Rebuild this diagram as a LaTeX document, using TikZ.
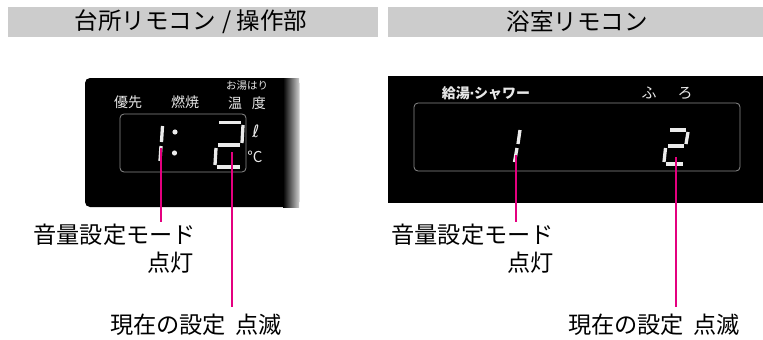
\documentclass[tikz,border=0pt]{standalone}
\usepackage{fontspec}
\setmainfont{Noto Sans CJK JP}
\newfontfamily\dejavu{DejaVu Sans}
\definecolor{hdr}{HTML}{CCCCCC}
\definecolor{pink}{HTML}{E4007F}
\definecolor{lcdgray}{HTML}{8C8C8C}
\definecolor{lcdtext}{HTML}{E8E8E8}
\begin{document}
\begin{tikzpicture}[x=1pt,y=-1pt,
  hdrtext/.style={font=\fontsize{23.5}{26}\selectfont, text=black, inner sep=0pt},
  lcdlabel/.style={font=\fontsize{14}{16}\selectfont, text=lcdtext, inner sep=0pt},
  lcdsmall/.style={font=\fontsize{10.5}{12}\selectfont, text=lcdtext, inner sep=0pt},
  seg/.style={line width=3.3pt, draw=white!92!black},
  frame/.style={draw=lcdgray, line width=0.8pt, rounded corners=4pt},
  callout/.style={font=\fontsize{23.2}{26}\selectfont, text=black, inner sep=0pt},
  leader/.style={draw=pink, line width=2pt}]
\useasboundingbox (0,0) rectangle (763,340);
\fill[white] (0,0) rectangle (763,340);
% header bars
\fill[hdr] (8,7) rectangle (378,37);
\fill[hdr] (388,7) rectangle (763,37);
\node[hdrtext] (h1) at (191,22) {台所リモコン\hspace{0.3em}/\hspace{0.2em}操作部};
\node[hdrtext] (h2) at (577,22) {浴室リモコン};
% ---------- left panel ----------
\fill[black, rounded corners=5pt] (85,78) rectangle (299,207);
\shade[left color=black, right color=black!20] (283,78) rectangle (299,207);
\draw[frame] (120,114) rectangle (246,172);
\node[lcdlabel] (yusen) at (128,102) {優先};
\node[lcdlabel] (nensho) at (185,102) {燃焼};
\node[lcdsmall] (oyu) at (247,86) {お湯はり};
\node[lcdlabel] (ondo) at (247,103) {温\hspace{10pt}度};
\node[text=lcdtext, inner sep=0pt, font=\dejavu\fontsize{17}{19}\selectfont] (litre) at (256,131) {ℓ};
\node[text=lcdtext, inner sep=0pt, font=\fontsize{15}{17}\selectfont] (degc) at (255,157) {°C};
% digit 1 and colon
\draw[seg] (162.5,126) -- (161.5,142);
\draw[seg] (161,146) -- (160,161);
\fill[white!92!black] (175,132) circle (2.6);
\fill[white!92!black] (174.5,153) circle (2.6);
% digit 2
\draw[seg] (219,122.5) -- (241,122.5);
\draw[seg] (243,125) -- (242,143);
\draw[seg] (218,145) -- (240,145);
\draw[seg] (216,148) -- (215,165);
\draw[seg] (217,167) -- (240,167);
% ---------- right panel ----------
\fill[black] (388,76) rectangle (763,203);
\draw[frame] (414,103) rectangle (740,171);
\node[lcdlabel, font=\bfseries\fontsize{14}{16}\selectfont] (kyuto) at (486,93) {給湯{\dejavu\bfseries\kern-0.5pt·\kern-0.5pt}シャワー};
\node[lcdlabel, font=\fontsize{15}{17}\selectfont] (fu) at (649,93) {ふ};
\node[lcdlabel, font=\fontsize{15}{17}\selectfont] (ro) at (685,93) {ろ};
% digit 1
\draw[seg] (520,130) -- (518,144);
\draw[seg] (517,148) -- (514.5,162);
% digit 2
\draw[seg] (670,130) -- (686,130);
\draw[seg] (688,132) -- (686,144);
\draw[seg] (668,146) -- (684,146);
\draw[seg] (665.5,148) -- (664,162);
\draw[seg] (666,164) -- (683,164);
% ---------- callouts ----------
\node[callout, anchor=east] (la1) at (196,235) {音量設定モード};
\node[callout, anchor=east] (la2) at (194,263) {点灯};
\node[callout] (lb) at (196,325) {現在の設定\hspace{0.4em}点滅};
\node[callout, anchor=east] (ra1) at (554,235) {音量設定モード};
\node[callout, anchor=east] (ra2) at (554,263) {点灯};
\node[callout] (rb) at (654,325) {現在の設定\hspace{0.4em}点滅};
% leaders
\coordinate (l1s) at (161,148);
\coordinate (l1e) at (161,222);
\coordinate (l2s) at (232,152);
\coordinate (l2e) at (232,307);
\coordinate (r1s) at (516,155);
\coordinate (r1e) at (516,222);
\coordinate (r2s) at (676,157);
\coordinate (r2e) at (676,307);
\draw[leader] (l1s) -- (l1e);
\draw[leader] (l2s) -- (l2e);
\draw[leader] (r1s) -- (r1e);
\draw[leader] (r2s) -- (r2e);
\end{tikzpicture}
\end{document}
